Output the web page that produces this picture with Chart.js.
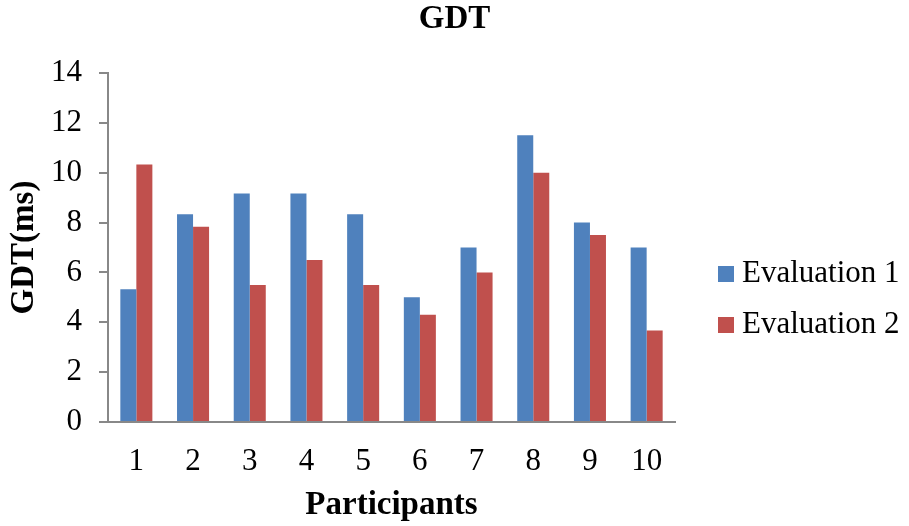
<!DOCTYPE html>
<html>
<head>
<meta charset="utf-8">
<script src="https://cdn.jsdelivr.net/npm/chart.js@4/dist/chart.umd.min.js"></script>
<style>
  html, body { margin: 0; padding: 0; background: #ffffff; }
  #wrap { width: 909px; height: 526px; position: relative; }
</style>
</head>
<body>
<div id="wrap"><canvas id="gdtChart"></canvas></div>
<script>
// GDT per participant, two evaluation rounds (ms)
const participants = ['1', '2', '3', '4', '5', '6', '7', '8', '9', '10'];
const evaluation1 = [5.33, 8.33, 9.17, 9.17, 8.33, 5.0, 7.0, 11.5, 8.0, 7.0];
const evaluation2 = [10.33, 7.83, 5.5, 6.5, 5.5, 4.3, 6.0, 10.0, 7.5, 3.67];
const yTickValues = [0, 2, 4, 6, 8, 10, 12, 14];
const chartTitle = 'GDT';

const serif = "'Times New Roman', 'Liberation Serif', serif";
const axisGrey = '#888888';
const labelSize = 31;
const boldSize = 33;

// Heading centred over the whole canvas, legend to the right of the plot
const frame = {
  id: 'frame',
  afterDraw(chart) {
    const ctx = chart.ctx;
    ctx.save();
    ctx.fillStyle = '#000000';
    ctx.textBaseline = 'middle';
    ctx.textAlign = 'center';
    ctx.font = 'bold ' + boldSize + 'px ' + serif;
    ctx.fillText(chartTitle, chart.width / 2, 19);

    const x0 = 718, box = 16, firstY = 274, gap = 51;
    ctx.font = labelSize + 'px ' + serif;
    ctx.textAlign = 'left';
    chart.data.datasets.forEach((ds, i) => {
      const cy = firstY + i * gap;
      ctx.fillStyle = ds.backgroundColor;
      ctx.fillRect(x0, cy - box / 2, box, box);
      ctx.fillStyle = '#000000';
      ctx.fillText(ds.label, x0 + 24, cy);
    });
    ctx.restore();
  }
};

new Chart(document.getElementById('gdtChart'), {
  type: 'bar',
  data: {
    labels: participants,
    datasets: [
      { label: 'Evaluation 1', data: evaluation1, backgroundColor: '#4F81BD',
        categoryPercentage: 0.565, barPercentage: 1.0 },
      { label: 'Evaluation 2', data: evaluation2, backgroundColor: '#C0504D',
        categoryPercentage: 0.565, barPercentage: 1.0 }
    ]
  },
  options: {
    responsive: true,
    maintainAspectRatio: false,
    animation: false,
    devicePixelRatio: 1,
    layout: { padding: { left: 0, right: 234, top: 73, bottom: 0 } },
    plugins: {
      legend: { display: false },
      tooltip: { enabled: false },
      title: { display: false }
    },
    scales: {
      x: {
        grid: { display: false, drawTicks: false },
        border: { display: true, color: axisGrey, width: 2 },
        ticks: { color: '#000000', font: { family: serif, size: labelSize }, padding: 21, maxRotation: 0 },
        title: {
          display: true,
          text: 'Participants',
          color: '#000000',
          font: { family: serif, size: boldSize, weight: 'bold' },
          padding: { top: 0, bottom: 1 }
        },
        afterFit(scale) { scale.height = 104; }
      },
      y: {
        min: 0,
        max: 14,
        afterBuildTicks(scale) { scale.ticks = yTickValues.map(v => ({ value: v })); },
        grid: { drawOnChartArea: false, drawTicks: true, tickLength: 9, color: axisGrey, lineWidth: 2 },
        border: { display: true, color: axisGrey, width: 2 },
        ticks: { color: '#000000', font: { family: serif, size: labelSize }, padding: 17 },
        title: {
          display: true,
          text: 'GDT(ms)',
          color: '#000000',
          font: { family: serif, size: boldSize, weight: 'bold' },
          padding: { top: 5, bottom: 0 }
        },
        afterFit(scale) { scale.width = 108; }
      }
    }
  },
  plugins: [frame]
});
</script>
</body>
</html>
